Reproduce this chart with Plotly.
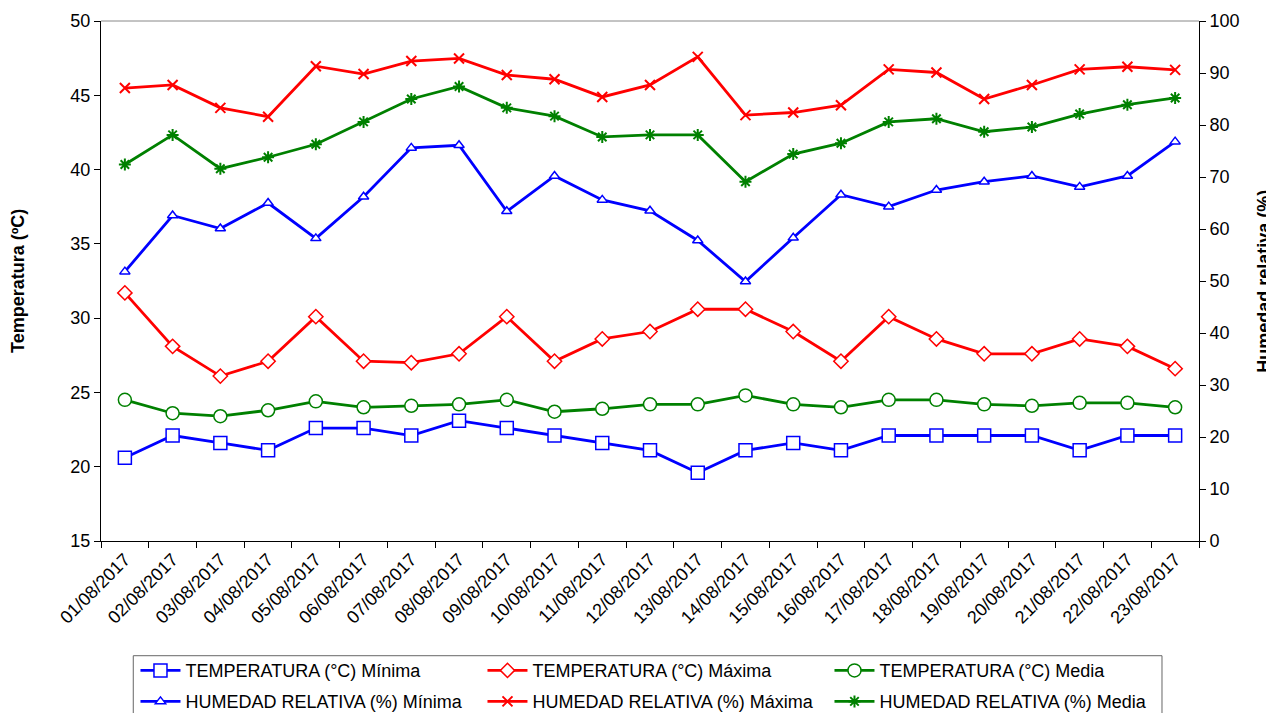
import plotly.graph_objects as go

dates = ["01/08/2017", "02/08/2017", "03/08/2017", "04/08/2017", "05/08/2017", "06/08/2017",
         "07/08/2017", "08/08/2017", "09/08/2017", "10/08/2017", "11/08/2017", "12/08/2017",
         "13/08/2017", "14/08/2017", "15/08/2017", "16/08/2017", "17/08/2017", "18/08/2017",
         "19/08/2017", "20/08/2017", "21/08/2017", "22/08/2017", "23/08/2017"]

temp_min = [20.6, 22.1, 21.6, 21.1, 22.6, 22.6, 22.1, 23.1, 22.6, 22.1, 21.6, 21.1,
            19.6, 21.1, 21.6, 21.1, 22.1, 22.1, 22.1, 22.1, 21.1, 22.1, 22.1]
temp_max = [31.7, 28.1, 26.1, 27.1, 30.1, 27.1, 27.0, 27.6, 30.1, 27.1, 28.6, 29.1,
            30.6, 30.6, 29.1, 27.1, 30.1, 28.6, 27.6, 27.6, 28.6, 28.1, 26.6]
temp_med = [24.5, 23.6, 23.4, 23.8, 24.4, 24.0, 24.1, 24.2, 24.5, 23.7, 23.9, 24.2,
            24.2, 24.8, 24.2, 24.0, 24.5, 24.5, 24.2, 24.1, 24.3, 24.3, 24.0]
hr_min = [51.8, 62.6, 60.1, 65.0, 58.2, 66.2, 75.6, 76.1, 63.4, 70.2, 65.6, 63.5,
          57.8, 49.9, 58.3, 66.6, 64.3, 67.5, 69.1, 70.2, 68.1, 70.2, 76.8]
hr_max = [87.1, 87.7, 83.3, 81.6, 91.3, 89.8, 92.3, 92.8, 89.6, 88.8, 85.4, 87.7,
          93.1, 81.9, 82.4, 83.8, 90.7, 90.1, 85.0, 87.7, 90.7, 91.2, 90.6]
hr_med = [72.4, 78.1, 71.6, 73.8, 76.3, 80.6, 85.0, 87.4, 83.3, 81.7, 77.7, 78.1,
          78.1, 69.1, 74.4, 76.5, 80.6, 81.2, 78.7, 79.6, 82.1, 83.9, 85.2]

y_title = "Temperatura (ºC)"
y2_title = "Humedad relativa (%)"

BLUE = "#0000FF"
RED = "#FF0000"
GREEN = "#008000"
FONT = "Liberation Sans, Arial, sans-serif"

fig = go.Figure()

def add(name, y, color, symbol, size, yaxis, legend, fill="white", mlw=1.5):
    fig.add_trace(go.Scatter(
        x=dates, y=y, name=name, mode="lines+markers", yaxis=yaxis, legend=legend,
        line=dict(color=color, width=2.8),
        marker=dict(symbol=symbol, size=size, color=fill, line=dict(color=color, width=mlw)),
    ))

add("TEMPERATURA (°C) Mínima", temp_min, BLUE, "square", 13, "y", "legend")
add("TEMPERATURA (°C) Máxima", temp_max, RED, "diamond", 11, "y", "legend")
add("TEMPERATURA (°C) Media", temp_med, GREEN, "circle", 13, "y", "legend")
add("HUMEDAD RELATIVA (%) Mínima", hr_min, BLUE, "triangle-up", 9, "y2", "legend2")
add("HUMEDAD RELATIVA (%) Máxima", hr_max, RED, "x-thin", 10, "y2", "legend2", fill=RED, mlw=2)
add("HUMEDAD RELATIVA (%) Media", hr_med, GREEN, "asterisk", 10, "y2", "legend2", fill=GREEN, mlw=2)

leg_common = dict(orientation="h", xanchor="left", yanchor="middle",
                  font=dict(family=FONT, size=18, color="black"),
                  bgcolor="rgba(0,0,0,0)", borderwidth=0, itemwidth=40,
                  entrywidth=292, entrywidthmode="pixels", itemclick=False)

fig.update_layout(
    width=1274, height=713,
    margin=dict(l=93, r=83, t=13, b=180, autoexpand=False),
    plot_bgcolor="white", paper_bgcolor="white",
    font=dict(family=FONT, color="black"),
    showlegend=True,
    legend=dict(x=0.0314, y=-0.2494, **leg_common),
    legend2=dict(x=0.0314, y=-0.309, **leg_common),
    xaxis=dict(type="category", range=[-0.5, len(dates) - 0.5], tickangle=-45,
               tickson="boundaries", ticks="outside",
               ticklen=6, tickcolor="black", showline=True, linecolor="black", linewidth=1,
               showgrid=False, tickfont=dict(size=18, family=FONT), zeroline=False,
               automargin=False),
    yaxis=dict(range=[15, 50], dtick=5, ticks="outside", ticklen=6, tickcolor="black",
               showline=True, linecolor="black", linewidth=1, showgrid=False, zeroline=False,
               tickfont=dict(size=18, family=FONT), automargin=False),
    yaxis2=dict(range=[0, 100], dtick=10, overlaying="y", side="right", ticks="outside",
                ticklen=6, tickcolor="black", showline=True, linecolor="black", linewidth=1,
                showgrid=False, zeroline=False, tickfont=dict(size=18, family=FONT),
                automargin=False),
    annotations=[
        dict(text="<b>" + y_title + "</b>", xref="paper", yref="paper", x=-0.0756, y=0.5,
             textangle=-90, showarrow=False, font=dict(size=18, family=FONT),
             xanchor="center", yanchor="middle"),
        dict(text="<b>" + y2_title + "</b>", xref="paper", yref="paper", x=1.059, y=0.5,
             textangle=-90, showarrow=False, font=dict(size=18, family=FONT),
             xanchor="center", yanchor="middle"),
    ],
    shapes=[
        dict(type="line", xref="paper", yref="paper", x0=0, x1=1, y0=1, y1=1,
             line=dict(color="#888888", width=1)),
        dict(type="rect", xref="paper", yref="paper", x0=0.0294, x1=0.9663, y0=-0.45, y1=-0.2206,
             line=dict(color="#666666", width=1), fillcolor="rgba(0,0,0,0)", layer="below"),
    ],
)

fig.write_html("out.html")
